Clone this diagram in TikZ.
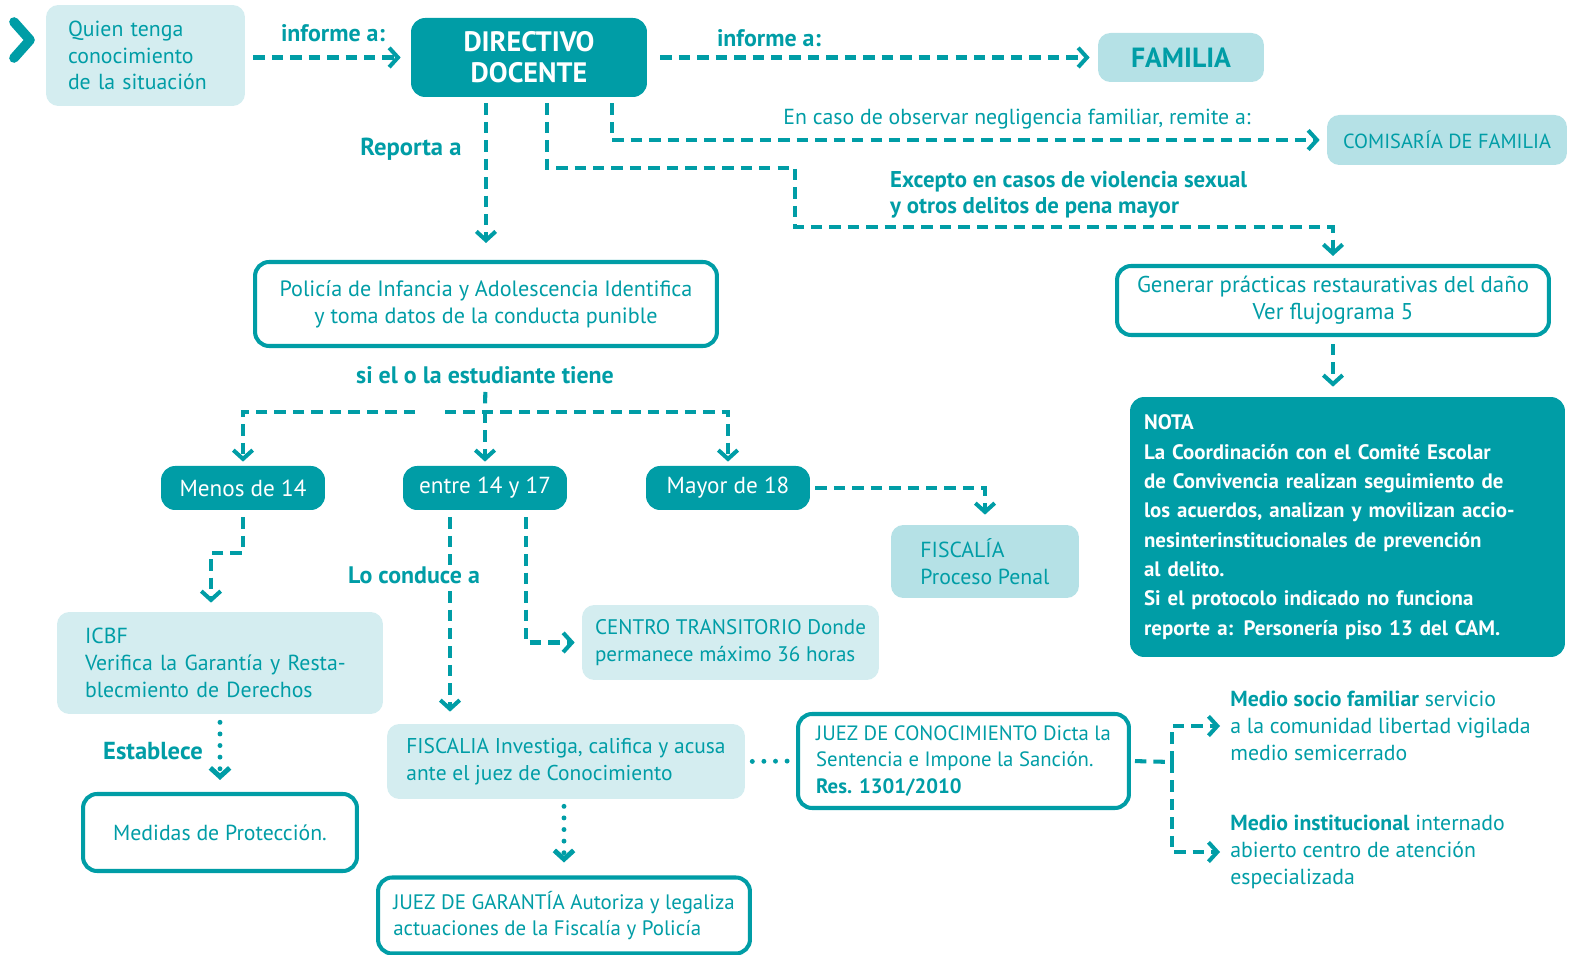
\documentclass[tikz,border=0pt]{standalone}
\usepackage{fontspec}
\setmainfont{PT Sans}
\usepackage{tikz}
\usetikzlibrary{arrows.meta, positioning, calc}
\definecolor{flujoteal}{RGB}{0, 157, 166}
\definecolor{flujopale}{RGB}{212, 237, 240}
\definecolor{flujolight}{RGB}{181, 225, 230}
\newcommand{\flujotxt}{\fontsize{12.4}{15.2}\selectfont}
\newcommand{\flujobig}{\fontsize{13.2}{16}\selectfont}
\newcommand{\flujotag}{\fontsize{13.6}{15}\selectfont\bfseries}
\tikzset{
    dashline/.style={draw=flujoteal, line width=2.3pt, dash pattern=on 6.5pt off 4pt},
    dasharrow/.style={dashline, -{Straight Barb[length=5pt, width=11pt]}},
    dotline/.style={draw=flujoteal, line width=2.8pt, line cap=round, dash pattern=on 0pt off 6.6pt},
    dotarrow/.style={dotline, -{Straight Barb[length=5pt, width=11pt]}},
    softbox/.style={rectangle, fill=flujopale, rounded corners=7pt, text=flujoteal, inner ysep=0pt, font=\flujotxt},
    lightbox/.style={softbox, fill=flujolight},
    linebox/.style={rectangle, draw=flujoteal, line width=2.3pt, fill=white, rounded corners=8pt, text=flujoteal, inner ysep=0pt, font=\flujotxt},
    darkbox/.style={rectangle, fill=flujoteal, rounded corners=8pt, text=white, inner ysep=0pt},
    tag/.style={text=flujoteal, font=\flujotag, inner sep=1pt}
}

\begin{document}
\begin{tikzpicture}[x=0.02cm, y=-0.02cm]
    \useasboundingbox (0,0) rectangle (1573,955);

    % Top row
    \draw[flujoteal, line width=5.5pt, line cap=round, line join=round] (14,22) -- (30,40) -- (14,58);
    \node[softbox, minimum width=3.98cm, minimum height=2.02cm, text width=3.1cm, inner xsep=0.44cm, align=left] (quien) at (145.5,55.5) {Quien tenga\\conocimiento\\de la situación};
    \node[darkbox, minimum width=4.72cm, minimum height=1.58cm, align=center, font=\fontsize{16}{17.6}\selectfont\bfseries] (directivo) at (529,57.5) {DIRECTIVO\\DOCENTE};
    \node[lightbox, minimum width=3.32cm, minimum height=0.98cm, font=\fontsize{15.8}{17}\selectfont\bfseries] (familia) at (1181,57.5) {FAMILIA};
    \node[lightbox, minimum width=4.8cm, minimum height=1cm, font=\fontsize{11.6}{14}\selectfont] (comisaria) at (1447,140) {COMISARÍA DE FAMILIA};

    \draw[dasharrow, shorten <=0.16cm, shorten >=0.2cm] (quien.east |- directivo) -- (directivo.west);
    \draw[dasharrow, shorten <=0.26cm, shorten >=0.16cm] (directivo.east) -- (familia.west);
    \draw[dasharrow, shorten <=0.12cm, shorten >=0.14cm] ([xshift=1.66cm]directivo.south) |- (comisaria.west);
    \node[tag] (informeA) at (333,33) {informe a:};
    \node[tag] (informeB) at (769,38) {informe a:};
    \node[text=flujoteal, font=\flujotxt] (negligencia) at (1017,119) {En caso de observar negligencia familiar, remite a:};

    % Right branch
    \node[linebox, minimum width=8.64cm, minimum height=1.38cm, align=center, font=\fontsize{13}{15.2}\selectfont] (generar) at (1333,300.5) {Generar prácticas restaurativas del daño\\Ver flujograma 5};
    \node[darkbox, minimum width=8.7cm, minimum height=5.2cm, text width=8.14cm, inner xsep=0.28cm, align=left, font=\fontsize{11.9}{16.7}\selectfont\bfseries] (nota) at (1347.5,527) {NOTA\\La Coordinación con el Comité Escolar\\de Convivencia realizan seguimiento de\\los acuerdos, analizan y movilizan accio-\\nesinterinstitucionales de prevención\\al delito.\\Si el protocolo indicado no funciona\\reporte a: Personería piso 13 del CAM.};
    \coordinate (bendA) at (795,168);
    \coordinate (bendB) at (795,227);
    \draw[dasharrow, shorten <=0.12cm, shorten >=0.16cm] ([xshift=0.36cm]directivo.south) |- (bendA) -- (bendB) -| (generar.north);
    \draw[dasharrow, shorten <=0.14cm, shorten >=0.2cm] (generar.south) -- (generar.south |- nota.north);
    \node[tag, anchor=west, align=left, font=\fontsize{13}{14.5}\selectfont\bfseries] (excepto) at (888,194.5) {Excepto en casos de violencia sexual\\y otros delitos de pena mayor};

    % Policia
    \node[linebox, minimum width=9.24cm, minimum height=1.68cm, align=center, font=\fontsize{12.6}{15.2}\selectfont] (policia) at (486,304) {Policía de Infancia y Adolescencia Identifica\\y toma datos de la conducta punible};
    \draw[dasharrow, shorten <=0.12cm, shorten >=0.34cm] (policia.north |- directivo.south) -- (policia.north);
    \node[tag, font=\fontsize{14}{15}\selectfont\bfseries] (reporta) at (411,149) {Reporta a};
    \node[tag] (tiene) at (485,375) {si el o la estudiante tiene};

    % Age groups
    \node[darkbox, minimum width=3.28cm, minimum height=0.88cm, font=\flujobig] (menos) at (243,488) {Menos de 14};
    \node[darkbox, minimum width=3.28cm, minimum height=0.88cm, font=\flujobig] (entre) at (485,488) {entre 14 y 17};
    \node[darkbox, minimum width=3.28cm, minimum height=0.88cm, font=\flujobig] (mayor) at (728,488) {Mayor de 18};
    \coordinate (split) at (485,412);
    \coordinate (gapL) at (415,412);
    \draw[dashline, shorten <=0.88cm] (policia.south) -- (split);
    \draw[dasharrow, shorten >=0.08cm] (gapL) -| (menos.north);
    \draw[dasharrow, shorten >=0.08cm] (split) -- (entre.north);
    \draw[dasharrow, shorten >=0.08cm] ([xshift=-0.8cm]split) -| (mayor.north);

    % Mayor de 18
    \node[lightbox, minimum width=3.76cm, minimum height=1.46cm, align=left] (fiscaliaPP) at (985,561.5) {FISCALÍA\\Proceso Penal};
    \draw[dasharrow, shorten <=0.1cm, shorten >=0.2cm] (mayor.east) -| (fiscaliaPP.north);

    % Menos de 14
    \node[softbox, minimum width=6.52cm, minimum height=2.04cm, text width=5.4cm, inner xsep=0.56cm, align=left] (icbf) at (220,663) {ICBF\\Verifica la Garantía y Resta-\\blecmiento de Derechos};
    \node[linebox, minimum width=5.48cm, minimum height=1.54cm] (medidas) at (220,832.5) {Medidas de Protección.};
    \coordinate (kneeM) at (243,553);
    \draw[dasharrow, shorten <=0.14cm, shorten >=0.18cm] (menos.south) -- (kneeM) -| ([xshift=-0.18cm]icbf.north);
    \draw[dotarrow, shorten <=0.16cm, shorten >=0.24cm] (icbf.south) -- (medidas.north);
    \node[tag, font=\fontsize{14}{16}\selectfont\bfseries] (establece) at (153,751) {Establece};

    % Entre 14 y 17
    \node[softbox, minimum width=5.94cm, minimum height=1.5cm, align=left, font=\fontsize{12}{15.2}\selectfont] (centro) at (730.5,642.5) {CENTRO TRANSITORIO Donde\\permanece máximo 36 horas};
    \node[softbox, minimum width=7.16cm, minimum height=1.5cm, align=left, font=\fontsize{12.2}{15.2}\selectfont] (fiscalia) at (566,761.5) {FISCALIA Investiga, califica y acusa\\ante el juez de Conocimiento};
    \node[linebox, minimum width=7.44cm, minimum height=1.52cm, align=left, font=\fontsize{11.9}{15.2}\selectfont] (juezG) at (564,915.5) {JUEZ DE GARANTÍA Autoriza y legaliza\\actuaciones de la Fiscalía y Policía};
    \node[linebox, minimum width=6.62cm, minimum height=1.88cm, align=left, font=\fontsize{11.8}{15}\selectfont] (juezC) at (963.5,761) {JUEZ DE CONOCIMIENTO Dicta la\\Sentencia e Impone la Sanción.\\\textbf{Res. 1301/2010}};
    \draw[dasharrow, shorten <=0.14cm, shorten >=0.24cm] ([xshift=-0.7cm]entre.south) -- ([xshift=-0.7cm]entre.south |- fiscalia.north);
    \draw[dasharrow, shorten <=0.14cm, shorten >=0.14cm] ([xshift=0.82cm]entre.south) |- (centro.west);
    \node[tag, fill=white] (conduce) at (414,575) {Lo conduce a};
    \draw[dotarrow, shorten <=0.14cm, shorten >=0.26cm] (juezG.north |- fiscalia.south) -- (juezG.north);
    \draw[dotline, shorten <=0.14cm, shorten >=0.12cm] (fiscalia.east) -- (juezC.west);

    % Medidas
    \node[anchor=west, align=left, text=flujoteal, font=\flujotxt, inner sep=0pt] (medioA) at (1230,726) {\textbf{Medio socio familiar} servicio\\a la comunidad libertad vigilada\\medio semicerrado};
    \node[anchor=west, align=left, text=flujoteal, font=\flujotxt, inner sep=0pt] (medioB) at (1230,852) {\textbf{Medio institucional} internado\\abierto centro de atención\\especializada};
    \coordinate (splitJ) at (1172,762);
    \draw[dashline, shorten <=0.08cm] (juezC.east) -- (splitJ);
    \draw[dasharrow, shorten >=0.2cm] (splitJ) |- (medioA.west);
    \draw[dasharrow, shorten >=0.2cm] (splitJ) |- (medioB.west);

\end{tikzpicture}
\end{document}
